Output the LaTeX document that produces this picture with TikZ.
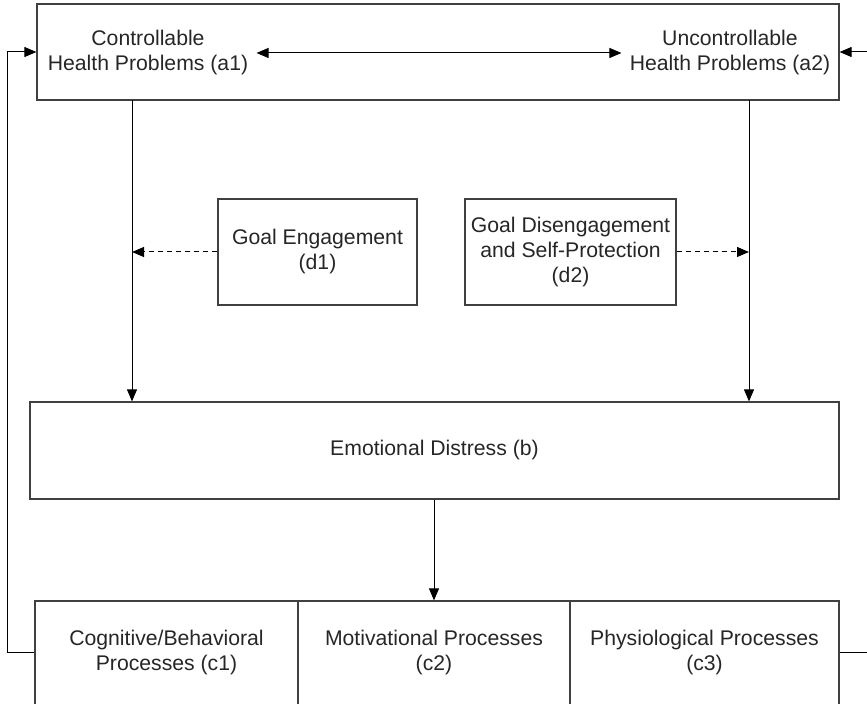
\documentclass[tikz,border=0pt]{standalone}
\usepackage{fontspec}
\setmainfont{Liberation Sans}
\usetikzlibrary{arrows.meta}
\tikzstyle{rect} = [rectangle, draw=black!75, line width=0.6pt, align=center, inner sep=0pt, text=black!85, font=\fontsize{10.6}{12.5}\selectfont]
\tikzstyle{txt} = [align=center, inner sep=4pt, text=black!85, font=\fontsize{10.6}{12.5}\selectfont]
\tikzstyle{arrow} = [line width=0.5pt,-{Triangle[length=6pt,width=5pt]}]
\tikzstyle{dblarrow} = [line width=0.5pt,{Triangle[length=6pt,width=5pt]}-{Triangle[length=6pt,width=5pt]}]
\tikzstyle{dasharrow} = [arrow, dash pattern=on 2.5pt off 2pt]
\begin{document}
\begin{tikzpicture}[x=0.5pt,y=-0.5pt]
        \useasboundingbox (0,0) rectangle (867,704);
        \clip (0,0) rectangle (867,704);
        \node (top) [rect, minimum width=401pt, minimum height=48pt] at (438,52) {};
        \node (a1) [txt] at (148,53) {Controllable\\Health Problems (a1)};
        \node (a2) [txt] at (730,53) {Uncontrollable\\Health Problems (a2)};
        \draw [dblarrow] (a1) -- (a2);

        \node (d1) [rect, minimum width=99.5pt, minimum height=53pt] at (317.5,252) {Goal Engagement\\(d1)};
        \node (d2) [rect, minimum width=105.5pt, minimum height=53pt] at (570.5,252) {Goal Disengagement\\and Self-Protection\\(d2)};
        \node (b) [rect, minimum width=404.5pt, minimum height=48.5pt] at (434.5,450.5) {Emotional Distress (b)};

        \node (c1) [rect, minimum width=131.5pt, minimum height=52pt] at (166.5,653) {Cognitive/Behavioral\\Processes (c1)};
        \node (c2) [rect, minimum width=136pt, minimum height=52pt] at (434,653) {Motivational Processes\\(c2)};
        \node (c3) [rect, minimum width=134.5pt, minimum height=52pt] at (704.5,653) {Physiological Processes\\(c3)};

        \coordinate (plain1) at (132,100);
        \coordinate (plain2) at (749,100);
        \draw [arrow] (plain1) -- (plain1 |- b.north);
        \draw [arrow] (plain2) -- (plain2 |- b.north);
        \draw [dasharrow] (d1.west) -- (d1.west -| plain1);
        \draw [dasharrow] (d2.east) -- (d2.east -| plain2);

        \draw [arrow] (c2.north |- b.south) -- (c2.north);

        % feedback loops
        \coordinate (plain3) at (7,653);
        \coordinate (plain4) at (876,653);
        \draw [arrow] (c1.west) -- (plain3) |- (top.west);
        \draw [arrow] (c3.east) -- (plain4) |- (top.east);
\end{tikzpicture}
\end{document}
